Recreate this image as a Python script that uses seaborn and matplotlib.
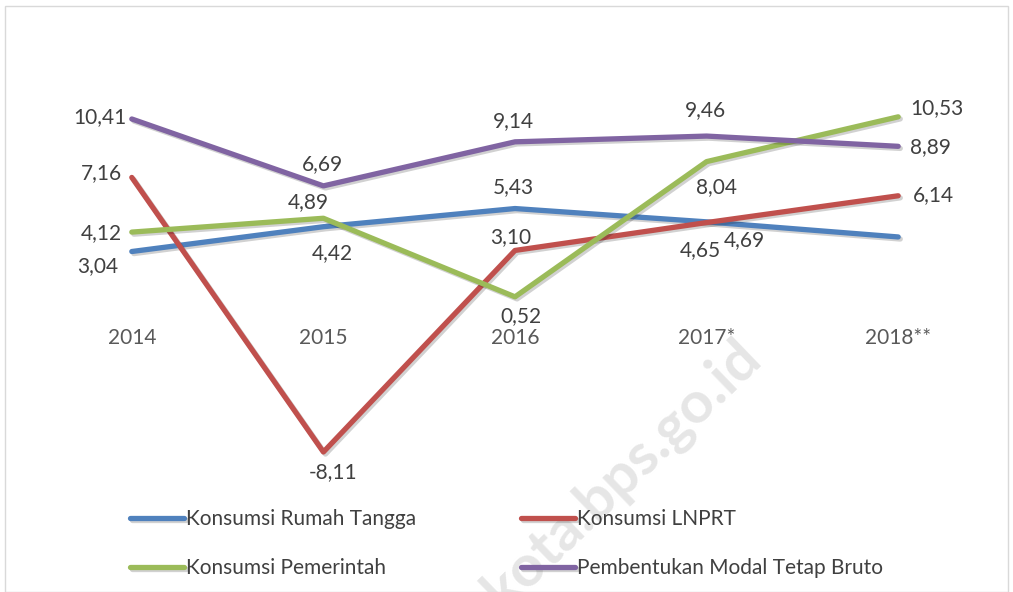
import pandas as pd
import seaborn as sns
import matplotlib.pyplot as plt
import matplotlib.patheffects as pe
from matplotlib.patches import Rectangle

# data
years = ["2014", "2015", "2016", "2017*", "2018**"]
rumah_tangga = [3.04, 4.42, 5.43, 4.69, 3.85]
lnprt = [7.16, -8.11, 3.10, 4.65, 6.14]
pemerintah = [4.12, 4.89, 0.52, 8.04, 10.53]
pmtb = [10.41, 6.69, 9.14, 9.46, 8.89]
series_names = ["Konsumsi Rumah Tangga", "Konsumsi LNPRT",
                "Konsumsi Pemerintah", "Pembentukan Modal Tetap Bruto"]
colors = ["#4F81BD", "#C0504D", "#9BBB59", "#8064A2"]

# label placement per point: (dx px, dy px, ha) or None = no label
label_pos = [
    [(-14, -15, "right"), (9, -26, "center"), (-2, 21, "center"), (38, -18, "center"), None],
    [(-10, 4, "right"), (10, -20, "center"), (-4, 13, "center"), (-6, -28, "center"), (15, 1, "left")],
    [(-10, -1, "right"), (-15, 16, "center"), (6, -19, "center"), (10, -25, "center"), (12, 9, "left")],
    [(-5, 2, "right"), (-1, 22, "center"), (-2, 21, "center"), (-1, 26, "center"), (12, -1, "left")],
]

all_values = [rumah_tangga, lnprt, pemerintah, pmtb]
df = pd.DataFrame({
    "Tahun": years * 4,
    "Pertumbuhan": rumah_tangga + lnprt + pemerintah + pmtb,
    "Komponen": [n for n in series_names for _ in years],
})

sns.set_theme(style="white")
plt.rcParams["font.family"] = ["Lato", "DejaVu Sans"]

fig = plt.figure(figsize=(10.13, 5.92), dpi=100)
ax = fig.add_axes([36 / 1013, 106 / 592, 958 / 1013, 395.6 / 592])
ax.patch.set_alpha(0)

# watermark
ax.text(622 / 1013, 1 - 474 / 592, "kota.bps.go.id", transform=fig.transFigure,
        rotation=44, fontsize=42, fontweight="bold", color="#e6e6e6",
        ha="center", va="center", zorder=0.5, clip_on=False)

sns.lineplot(data=df, x="Tahun", y="Pertumbuhan", hue="Komponen",
             palette=colors, linewidth=3.8, sort=False, ax=ax, zorder=2)

for line in ax.lines:
    line.set_solid_capstyle("round")
    line.set_solid_joinstyle("round")
    line.set_path_effects([pe.SimpleLineShadow(offset=(1.5, -1.5), alpha=0.2, shadow_color="k"),
                           pe.Normal()])

ax.set_xlim(-0.5, 4.5)
ax.set_ylim(-10, 12)
ax.set_xticks([])
ax.set_yticks([])
ax.set_xlabel("")
ax.set_ylabel("")
for s in ax.spines.values():
    s.set_visible(False)

# category labels below the zero line
for i, yr in enumerate(years):
    ax.annotate(yr, (i, 0), xytext=(0, -32), textcoords="offset pixels",
                ha="center", va="center", color="#595959", fontsize=15)

# data labels
for vals, pos in zip(all_values, label_pos):
    for i, (v, p) in enumerate(zip(vals, pos)):
        if p is None:
            continue
        dx, dy, ha = p
        ax.annotate(f"{v:.2f}".replace(".", ","), (i, v), xytext=(dx, dy),
                    textcoords="offset pixels", ha=ha, va="center",
                    color="#404040", fontsize=15, zorder=4)

# legend, row-wise order like the original
handles, labels = ax.get_legend_handles_labels()
ax.get_legend().remove()
order = [0, 2, 1, 3]
handles = [handles[i] for i in order]
labels = [labels[i] for i in order]
for h in handles:
    h.set_linewidth(3.8)
    h.set_solid_capstyle("round")
leg = fig.legend(handles, labels, ncol=2, loc="upper left",
                 bbox_to_anchor=(130 / 1013, 1 - 509 / 592),
                 frameon=False, fontsize=15, handlelength=2.6,
                 handletextpad=0.1, columnspacing=5.0, labelspacing=1.4,
                 borderpad=0, borderaxespad=0)
for t in leg.get_texts():
    t.set_color("#404040")

# chart border
fig.patches.append(Rectangle((5 / 1013, 0), 1003 / 1013, 1 - 6 / 592,
                             transform=fig.transFigure, fill=False,
                             edgecolor="#d9d9d9", linewidth=1))

fig.savefig("out.png", dpi=100)
